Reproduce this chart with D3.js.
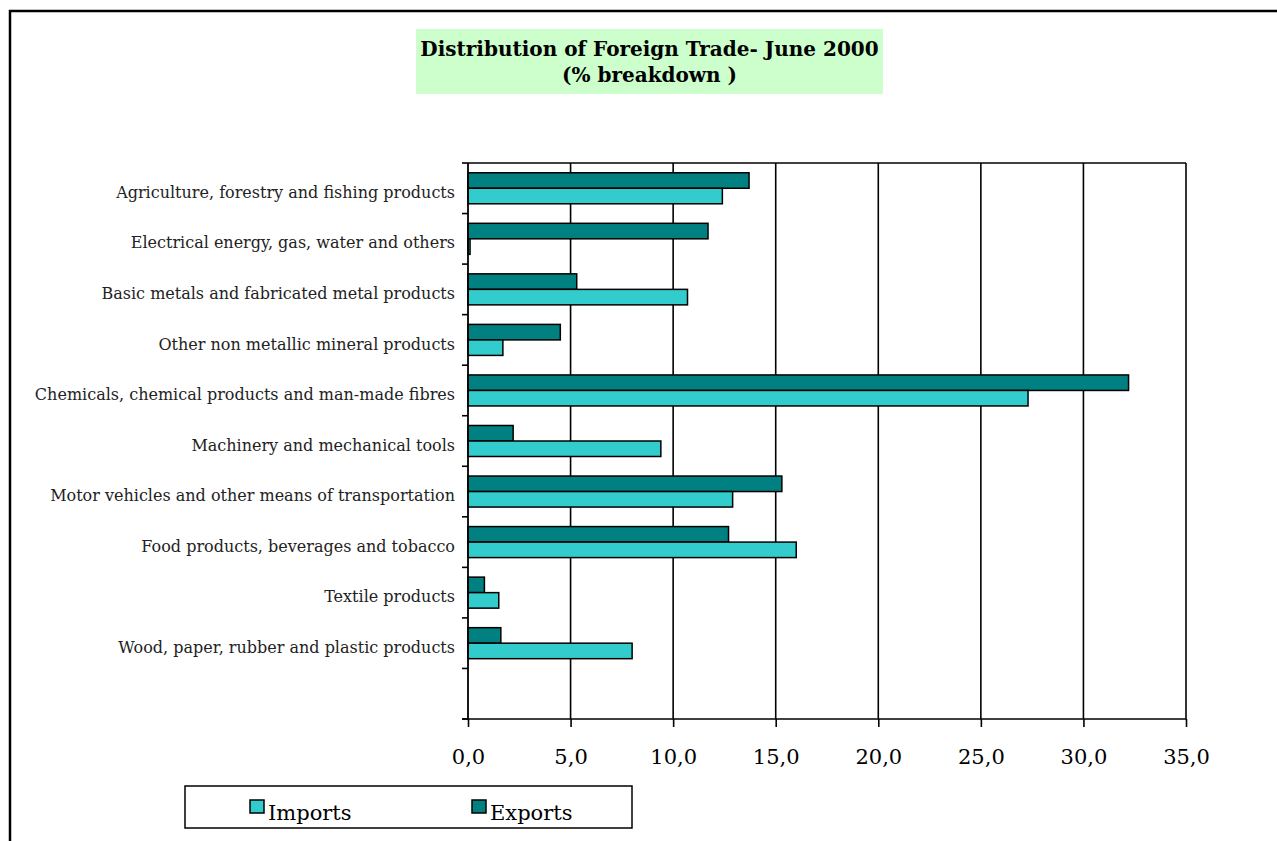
<!DOCTYPE html>
<html>
<head>
<meta charset="utf-8">
<script src="https://cdnjs.cloudflare.com/ajax/libs/d3/7.8.5/d3.min.js"></script>
<style>
  body { margin: 0; background: #fff; }
  text { font-family: "DejaVu Serif", serif; fill: #000; }
</style>
</head>
<body>
<div id="chart"></div>
<script>

// categories, top to bottom (the empty one is the blank slot under the last bar)
var categories = [
  "Agriculture, forestry and fishing products",
  "Electrical energy, gas, water and others",
  "Basic metals and fabricated metal products",
  "Other non metallic mineral products",
  "Chemicals, chemical products and man-made fibres",
  "Machinery and mechanical tools",
  "Motor vehicles and other means of transportation",
  "Food products, beverages and tobacco",
  "Textile products",
  "Wood, paper, rubber and plastic products",
  ""
];

// % breakdown
var exportsData = [13.7, 11.7, 5.3, 4.5, 32.2, 2.2, 15.3, 12.7, 0.8, 1.6];
var importsData = [12.4, 0.1, 10.7, 1.7, 27.3, 9.4, 12.9, 16.0, 1.5, 8.0];

var seriesNames = ["Exports", "Imports"];
var legendNames = ["Imports", "Exports"];
var xTicks = [0, 5, 10, 15, 20, 25, 30, 35];

var colors = {"Imports": "#33cccc", "Exports": "#008080"};

// set the dimensions and margins of the graph
var margin = {top: 163, right: 91, bottom: 122, left: 468},
    fullWidth = 1277,
    fullHeight = 841,
    width = fullWidth - margin.left - margin.right,
    height = fullHeight - margin.top - margin.bottom;

var svg = d3.select("#chart").append("svg")
    .attr("width", fullWidth)
    .attr("height", fullHeight);

// outer frame of the sheet (runs off the page right and bottom)
svg.append("path")
    .attr("d", "M10,870 L10,11 L1300,11")
    .attr("fill", "none")
    .attr("stroke", "#000")
    .attr("stroke-width", 2.5);

// title box
svg.append("rect")
    .attr("x", 416)
    .attr("y", 29)
    .attr("width", 467)
    .attr("height", 65)
    .attr("fill", "#ccffcc");

var title = svg.append("text")
    .attr("x", 649.5)
    .attr("y", 56)
    .attr("text-anchor", "middle")
    .style("font-size", "20px")
    .style("font-weight", "bold");
title.append("tspan").attr("x", 649.5).text("Distribution of Foreign Trade- June 2000");
title.append("tspan").attr("x", 649.5).attr("dy", 26).text("(% breakdown )");

var g = svg.append("g")
    .attr("transform", "translate(" + margin.left + "," + margin.top + ")");

// set the ranges
var x = d3.scaleLinear()
    .domain([0, 35])
    .range([0, width]);

var y = d3.scaleBand()
    .domain(categories)
    .range([0, height]);

var ySub = d3.scaleBand()
    .domain(seriesNames)
    .range([0, y.bandwidth()])
    .paddingOuter(0.63);

// vertical gridlines
g.selectAll(".grid")
    .data(xTicks.slice(1))
  .enter().append("line")
    .attr("class", "grid")
    .attr("x1", function(d) { return x(d); })
    .attr("x2", function(d) { return x(d); })
    .attr("y1", 0)
    .attr("y2", height)
    .attr("stroke", "#000")
    .attr("stroke-width", 1.6);

// top border of the plot
g.append("line")
    .attr("x1", 0).attr("x2", width)
    .attr("y1", 0).attr("y2", 0)
    .attr("stroke", "#000")
    .attr("stroke-width", 1.6);

// one group per series
var rows = categories.slice(0, exportsData.length).map(function(c, i) {
  return {name: c, Exports: exportsData[i], Imports: importsData[i]};
});

seriesNames.forEach(function(s) {
  g.selectAll(".bar-" + s)
      .data(rows)
    .enter().append("rect")
      .attr("class", "bar-" + s)
      .attr("x", x(0))
      .attr("y", function(d) { return y(d.name) + ySub(s); })
      .attr("width", function(d) { return x(d[s]) - x(0); })
      .attr("height", ySub.bandwidth())
      .attr("fill", colors[s])
      .attr("stroke", "#000")
      .attr("stroke-width", 1.5);
});

// x axis
var xAxis = d3.axisBottom(x)
    .tickValues(xTicks)
    .tickSize(8)
    .tickPadding(22)
    .tickFormat(function(d) { return d3.format(".1f")(d).replace(".", ","); });

var xg = g.append("g")
    .attr("transform", "translate(0," + height + ")")
    .call(xAxis);
xg.select(".domain").attr("stroke-width", 1.6).attr("d", "M-6,0H" + width);
xg.selectAll(".tick line").attr("stroke-width", 1.6);
xg.selectAll(".tick text")
    .style("font-family", "DejaVu Serif")
    .style("font-size", "21px");

// y axis: ticks sit between categories
var yAxis = g.append("g");
yAxis.append("line")
    .attr("x1", 0).attr("x2", 0)
    .attr("y1", 0).attr("y2", height)
    .attr("stroke", "#000")
    .attr("stroke-width", 1.8);

var boundaries = categories.map(function(c) { return y(c); });
boundaries.push(height);
yAxis.selectAll(".ytick")
    .data(boundaries)
  .enter().append("line")
    .attr("class", "ytick")
    .attr("x1", -6).attr("x2", 0)
    .attr("y1", function(d) { return d; })
    .attr("y2", function(d) { return d; })
    .attr("stroke", "#000")
    .attr("stroke-width", 1.6);

yAxis.selectAll(".ylabel")
    .data(categories)
  .enter().append("text")
    .attr("class", "ylabel")
    .attr("x", -13)
    .attr("y", function(d) { return y(d) + y.bandwidth() / 2 + 4; })
    .attr("dy", "0.35em")
    .attr("text-anchor", "end")
    .style("font-size", "16px")
    .style("fill", "#222")
    .text(function(d) { return d; });

// legend
var legend = svg.append("g");
legend.append("rect")
    .attr("x", 185)
    .attr("y", 786)
    .attr("width", 447)
    .attr("height", 42)
    .attr("fill", "#fff")
    .attr("stroke", "#000")
    .attr("stroke-width", 1.5);

var legendX = {"Imports": 250, "Exports": 472};
legendNames.forEach(function(s) {
  legend.append("rect")
      .attr("x", legendX[s])
      .attr("y", 800)
      .attr("width", 14)
      .attr("height", 13)
      .attr("fill", colors[s])
      .attr("stroke", "#000")
      .attr("stroke-width", 1.5);
  legend.append("text")
      .attr("x", legendX[s] + 18)
      .attr("y", 820)
      .style("font-size", "21px")
      .text(s);
});

</script>
</body>
</html>
